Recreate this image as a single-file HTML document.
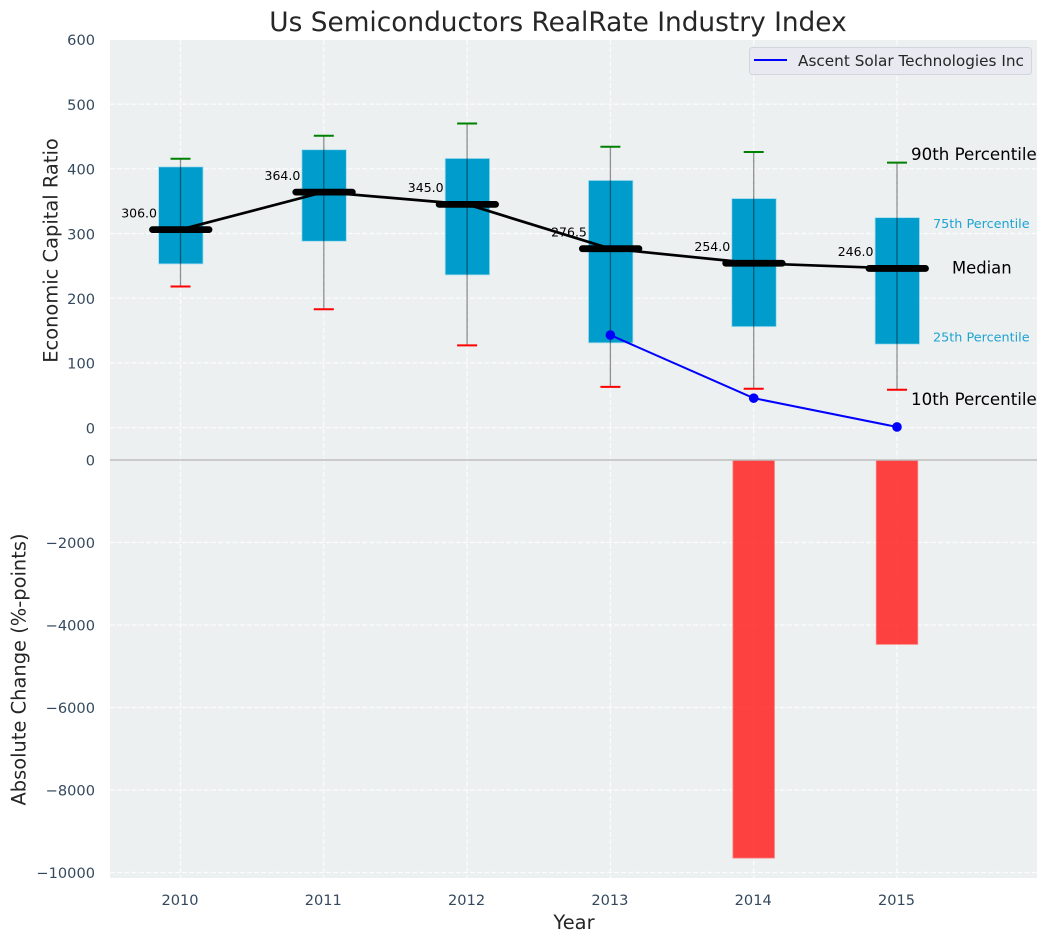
<!DOCTYPE html>
<html lang="en">
<head>
<meta charset="utf-8">
<title>Us Semiconductors RealRate Industry Index</title>
<style>
html,body{margin:0;padding:0;background:#fff;width:1048px;height:942px;overflow:hidden}
svg{display:block}
text{font-family:"DejaVu Sans","Liberation Sans",sans-serif}
</style>
</head>
<body>
<svg id="chart" xmlns="http://www.w3.org/2000/svg" width="1048" height="942" viewBox="0 0 1048 942"></svg>
<script>
const years = [2010, 2011, 2012, 2013, 2014, 2015];
const p90 = [415.5, 451, 470, 434, 426, 409.5];
const p75 = [403, 429.5, 416, 382, 354, 324.5];
const medians = [306, 364, 345, 276.5, 254, 246];
const p25 = [253, 288, 236, 131, 156, 129];
const p10 = [218, 183, 127, 63, 60, 58.5];
const companyYears = [2013, 2014, 2015];
const companyValues = [143, 45.5, 1];
const changeYears = [2014, 2015];
const changeValues = [-9650, -4470];
const topTicks = [0, 100, 200, 300, 400, 500, 600];
const bottomTicks = [0, -2000, -4000, -6000, -8000, -10000];

const svg = document.getElementById('chart');
const NS = 'http://www.w3.org/2000/svg';
const x = function (v) { return 180.5 + (v - 2010) * 143.3; };
const yTop = function (v) { return 427.6 - v * 0.647; };
const yBot = function (v) { return 460 - v * 0.04125; };
const w = function (v) { return v * 143.3; };

function make(tag, attrs, text) {
  const el = document.createElementNS(NS, tag);
  for (const k in attrs) el.setAttribute(k, attrs[k]);
  if (text !== undefined) el.textContent = text;
  svg.appendChild(el);
  return el;
}
function label(s) { return String(s).replace('-', '\u2212'); }

let el;
el = make('rect', {x: 110, y: 40, width: 927, height: 420, fill: '#ecf0f1'});


el = make('rect', {x: 110, y: 460, width: 927, height: 418, fill: '#ecf0f1'});



const gridStyle = {stroke: '#ffffff', 'stroke-width': 1.2, 'stroke-dasharray': '5 2.2', opacity: 0.85};

topTicks.forEach(function (t) {
  el = make('line', Object.assign({x1: 110, x2: 1037, y1: yTop(t), y2: yTop(t)}, gridStyle));
  
  
  el = make('text', {x: 95, y: yTop(t) + 5.8, 'text-anchor': 'end', 'font-size': 14.58, fill: '#34495e'}, label(t));
  
  
});

bottomTicks.forEach(function (t) {
  el = make('line', Object.assign({x1: 110, x2: 1037, y1: yBot(t), y2: yBot(t)}, gridStyle));
  
  
  el = make('text', {x: 95, y: yBot(t) + 5.4, 'text-anchor': 'end', 'font-size': 14.58, fill: '#34495e'}, label(t));
  
  
});

years.forEach(function (yr) {
  el = make('line', Object.assign({x1: x(yr), x2: x(yr), y1: 40, y2: 878}, gridStyle));
  
  
  el = make('text', {x: x(yr) - 0.5, y: 905, 'text-anchor': 'middle', 'font-size': 14.58, fill: '#34495e'}, yr);
  
  
});

changeYears.forEach(function (yr, i) {
  const v = changeValues[i];
  el = make('rect', {x: x(yr) - w(0.145), y: yBot(0), width: w(0.29), height: yBot(v) - yBot(0), fill: '#ff2e2e', 'fill-opacity': 0.9, stroke: '#ff8080', 'stroke-width': 0.8});
  
  
});

el = make('line', {x1: 110, x2: 1037, y1: 460, y2: 460, stroke: '#bdbdbd', 'stroke-width': 1.5});



years.forEach(function (yr, i) {
  el = make('rect', {x: x(yr) - w(0.155) + 0.3, y: yTop(p75[i]), width: w(0.31), height: yTop(p25[i]) - yTop(p75[i]), fill: '#009ccc', stroke: '#a5dcee', 'stroke-width': 0.8});
  
  
  el = make('line', {x1: x(yr), x2: x(yr), y1: yTop(p90[i]), y2: yTop(p10[i]), stroke: '#000', 'stroke-opacity': 0.42, 'stroke-width': 1.3});
  
  
  el = make('line', {x1: x(yr) - 10, x2: x(yr) + 10, y1: yTop(p90[i]), y2: yTop(p90[i]), stroke: '#008000', 'stroke-width': 2});
  
  
  el = make('line', {x1: x(yr) - 10, x2: x(yr) + 10, y1: yTop(p10[i]), y2: yTop(p10[i]), stroke: '#ff0000', 'stroke-width': 2});
  
  
});

el = make('polyline', {points: years.map(function (yr, i) { return x(yr) + ',' + yTop(medians[i]); }).join(' '), fill: 'none', stroke: '#000', 'stroke-width': 2.7});



years.forEach(function (yr, i) {
  el = make('line', {x1: x(yr) - 28, x2: x(yr) + 28.5, y1: yTop(medians[i]), y2: yTop(medians[i]), stroke: '#000', 'stroke-width': 6.8, 'stroke-linecap': 'round'});
  
  
  el = make('text', {x: x(yr) - 23.5, y: yTop(medians[i]) - 12.3, 'text-anchor': 'end', 'font-size': 12.5, fill: '#000'}, medians[i].toFixed(1));
  
  
});

el = make('polyline', {points: companyYears.map(function (yr, i) { return x(yr) + ',' + yTop(companyValues[i]); }).join(' '), fill: 'none', stroke: '#0000ff', 'stroke-width': 2});


companyYears.forEach(function (yr, i) {
  el = make('circle', {cx: x(yr), cy: yTop(companyValues[i]), r: 4.8, fill: '#0000ff'});
  
  
});

const last = years.length - 1;
const lastX = x(years[last]);
el = make('text', {x: lastX + 14, y: yTop(p90[last]) - 2.6, 'font-size': 16.67, fill: '#000'}, '90th Percentile');


el = make('text', {x: lastX + 36, y: yTop(p75[last]) + 10.3, 'font-size': 12.8, fill: '#1fa3d1'}, '75th Percentile');


el = make('text', {x: lastX + 55, y: yTop(medians[last]) + 5, 'font-size': 16.4, fill: '#000'}, 'Median');


el = make('text', {x: lastX + 36, y: yTop(p25[last]) - 2.5, 'font-size': 12.8, fill: '#1fa3d1'}, '25th Percentile');


el = make('text', {x: lastX + 14, y: yTop(p10[last]) + 15, 'font-size': 16.67, fill: '#000'}, '10th Percentile');



el = make('rect', {x: 749.5, y: 47.5, width: 282, height: 27, rx: 3, fill: '#e9eaf1', stroke: '#d3d5dc', 'stroke-width': 1});


el = make('line', {x1: 754, x2: 787, y1: 60, y2: 60, stroke: '#0000ff', 'stroke-width': 2});


el = make('text', {x: 798, y: 66, 'font-size': 15.28, fill: '#262626'}, 'Ascent Solar Technologies Inc');



el = make('text', {x: 558, y: 31, 'text-anchor': 'middle', 'font-size': 26.39, fill: '#262626'}, 'Us Semiconductors RealRate Industry Index');


el = make('text', {x: 574, y: 929, 'text-anchor': 'middle', 'font-size': 19.44, fill: '#262626'}, 'Year');


el = make('text', {x: 0, y: 0, transform: 'translate(57.5 250.5) rotate(-90)', 'text-anchor': 'middle', 'font-size': 19.44, fill: '#262626'}, 'Economic Capital Ratio');


el = make('text', {x: 0, y: 0, transform: 'translate(25.5 669.5) rotate(-90)', 'text-anchor': 'middle', 'font-size': 19.44, fill: '#262626'}, 'Absolute Change (%-points)');


</script>
</body>
</html>
